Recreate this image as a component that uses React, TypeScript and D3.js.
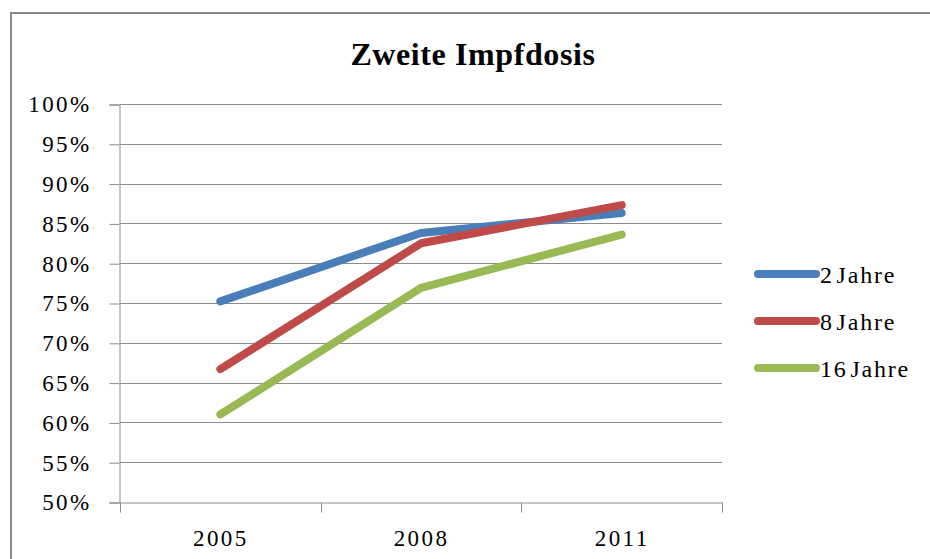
import { useEffect, useRef } from 'react';
import * as d3 from 'd3';

const years = ['2005', '2008', '2011'];
const seriesNames = ['2 Jahre', '8 Jahre', '16 Jahre'];
const zweiJahre = [0.752, 0.838, 0.863];
const achtJahre = [0.667, 0.825, 0.873];
const sechzehnJahre = [0.610, 0.769, 0.836];
const yTicks = [0.5, 0.55, 0.6, 0.65, 0.7, 0.75, 0.8, 0.85, 0.9, 0.95, 1.0];
const colors = ['#4A7EBB', '#BE4B48', '#98B954'];

function App() {
  const svgRef = useRef<SVGSVGElement>(null);

  useEffect(() => {
    const width = 930;
    const height = 559;
    const margin = { top: 104, right: 208, bottom: 57, left: 120 };
    const font = '"Liberation Serif", "Times New Roman", serif';

    const svg = d3.select(svgRef.current)
      .attr('width', width)
      .attr('height', height);

    svg.selectAll('*').remove();

    // frame (only top and left edges visible)
    svg.append('path')
      .attr('d', `M11,${height} V13 H${width}`)
      .attr('fill', 'none')
      .attr('stroke', '#878787')
      .attr('stroke-width', 2);

    const x = d3.scaleBand()
      .domain(years)
      .range([margin.left, width - margin.right]);

    const y = d3.scaleLinear()
      .domain([0.5, 1])
      .range([height - margin.bottom, margin.top]);

    // gridlines
    svg.append('g')
      .selectAll('line')
      .data(yTicks.slice(1))
      .enter()
      .append('line')
      .attr('x1', margin.left)
      .attr('x2', width - margin.right)
      .attr('y1', d => Math.round(y(d)) + 0.5)
      .attr('y2', d => Math.round(y(d)) + 0.5)
      .attr('stroke', '#8c8c8c')
      .attr('stroke-width', 1);

    // y axis
    const yAxis = svg.append('g')
      .attr('transform', `translate(${margin.left - 0.5}, 0.5)`)
      .call(d3.axisLeft(y).tickValues(yTicks).tickSize(10).tickPadding(18)
        .tickFormat(d3.format('.0%')));
    yAxis.select('.domain').attr('stroke', '#8c8c8c');
    yAxis.selectAll('.tick line').attr('stroke', '#8c8c8c');
    yAxis.selectAll('.tick text')
      .attr('fill', '#000')
      .attr('font-family', font)
      .attr('font-size', 23)
      .attr('letter-spacing', 2.4);

    // x axis
    const xAxis = svg.append('g')
      .attr('transform', `translate(0.5, ${height - margin.bottom + 0.5})`)
      .call(d3.axisBottom(x).tickSize(0).tickPadding(27));
    xAxis.select('.domain').attr('stroke', '#8c8c8c');
    xAxis.selectAll('.tick text')
      .attr('fill', '#000')
      .attr('font-family', font)
      .attr('font-size', 23)
      .attr('letter-spacing', 2.4);
    xAxis.selectAll('.xtick')
      .data(d3.range(years.length + 1))
      .enter()
      .append('line')
      .attr('class', 'xtick')
      .attr('x1', i => Math.round(margin.left + i * x.step()))
      .attr('x2', i => Math.round(margin.left + i * x.step()))
      .attr('y1', 0)
      .attr('y2', 10)
      .attr('stroke', '#8c8c8c');

    // series
    const allSeries = [zweiJahre, achtJahre, sechzehnJahre];
    const line = d3.line<number>()
      .x((_, i) => (x(years[i]) as number) + x.bandwidth() / 2)
      .y(d => y(d));

    allSeries.forEach((vals, i) => {
      svg.append('path')
        .datum(vals)
        .attr('d', line)
        .attr('fill', 'none')
        .attr('stroke', colors[i])
        .attr('stroke-width', 8)
        .attr('stroke-linecap', 'round')
        .attr('stroke-linejoin', 'round');
    });

    // title
    svg.append('text')
      .attr('x', 473)
      .attr('y', 65)
      .attr('text-anchor', 'middle')
      .attr('font-family', font)
      .attr('font-weight', 'bold')
      .attr('font-size', 32)
      .attr('letter-spacing', 0.6)
      .attr('fill', '#000')
      .text('Zweite Impfdosis');

    // legend
    const legend = svg.append('g').attr('transform', 'translate(758, 274)');
    seriesNames.forEach((name, i) => {
      const g = legend.append('g').attr('transform', `translate(0, ${i * 47})`);
      g.append('line')
        .attr('x1', 0)
        .attr('x2', 58)
        .attr('stroke', colors[i])
        .attr('stroke-width', 8)
        .attr('stroke-linecap', 'round');
      g.append('text')
        .attr('x', 62)
        .attr('y', 9)
        .attr('font-family', font)
        .attr('font-size', 24)
        .attr('letter-spacing', 1.8)
        .attr('word-spacing', -5)
        .attr('fill', '#000')
        .text(name);
    });
  }, []);

  return (
    <svg ref={svgRef} style={{ position: 'absolute', left: 0, top: 0, background: '#fff' }}></svg>
  );
}

export default App;
